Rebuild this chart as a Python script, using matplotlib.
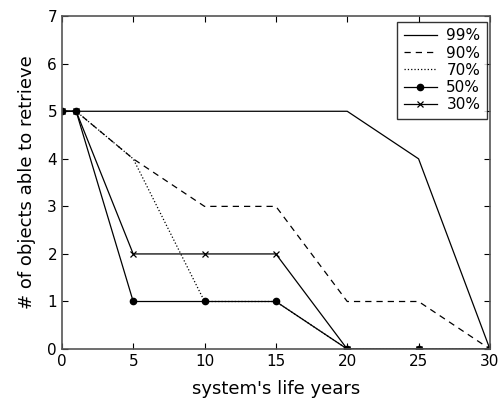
import matplotlib
matplotlib.use("Agg")
import matplotlib.pyplot as plt

years = [0, 1, 5, 10, 15, 20, 25, 30]
p99 = [5, 5, 5, 5, 5, 5, 4, 0]
p90 = [5, 5, 4, 3, 3, 1, 1, 0]
p70 = [5, 5, 4, 1, 1, 0, 0, 0]
p50 = [5, 5, 1, 1, 1, 0, 0, 0]
p30 = [5, 5, 2, 2, 2, 0, 0, 0]

fig = plt.figure(figsize=(5.03, 4.04), dpi=100)
ax = fig.add_axes([0.123, 0.136, 0.851, 0.824])

lw = 0.9
ax.plot(years, p99, "-", color="black", lw=lw, label="99%")
ax.plot(years, p90, "--", color="black", lw=lw, dashes=(5, 4), label="90%")
ax.plot(years, p70, ":", color="black", lw=lw, label="70%")
ax.plot(years, p50, "-", color="black", lw=lw, marker="o", ms=4.5, label="50%")
ax.plot(years, p30, "-", color="black", lw=lw, marker="x", ms=4.5, mew=0.9, label="30%")

ax.set_xlim(0, 30)
ax.set_ylim(0, 7)
ax.set_xticks(range(0, 31, 5))
ax.set_yticks(range(0, 8))
ax.tick_params(direction="in", top=True, right=True, labelsize=11, length=4)
for s in ax.spines.values():
    s.set_color("#555555")
    s.set_linewidth(1.2)

ax.set_xlabel("system's life years", fontsize=13, labelpad=8)
ax.set_ylabel("# of objects able to retrieve", fontsize=13, labelpad=8)

leg = ax.legend(loc="upper right", fontsize=11, frameon=True, fancybox=False,
                shadow=False, handlelength=2.2, handletextpad=0.6,
                borderpad=0.4, labelspacing=0.15, bbox_to_anchor=(1.01, 1.005))
leg.get_frame().set_edgecolor("black")
leg.get_frame().set_linewidth(1.0)

fig.savefig("out.png", dpi=100)
